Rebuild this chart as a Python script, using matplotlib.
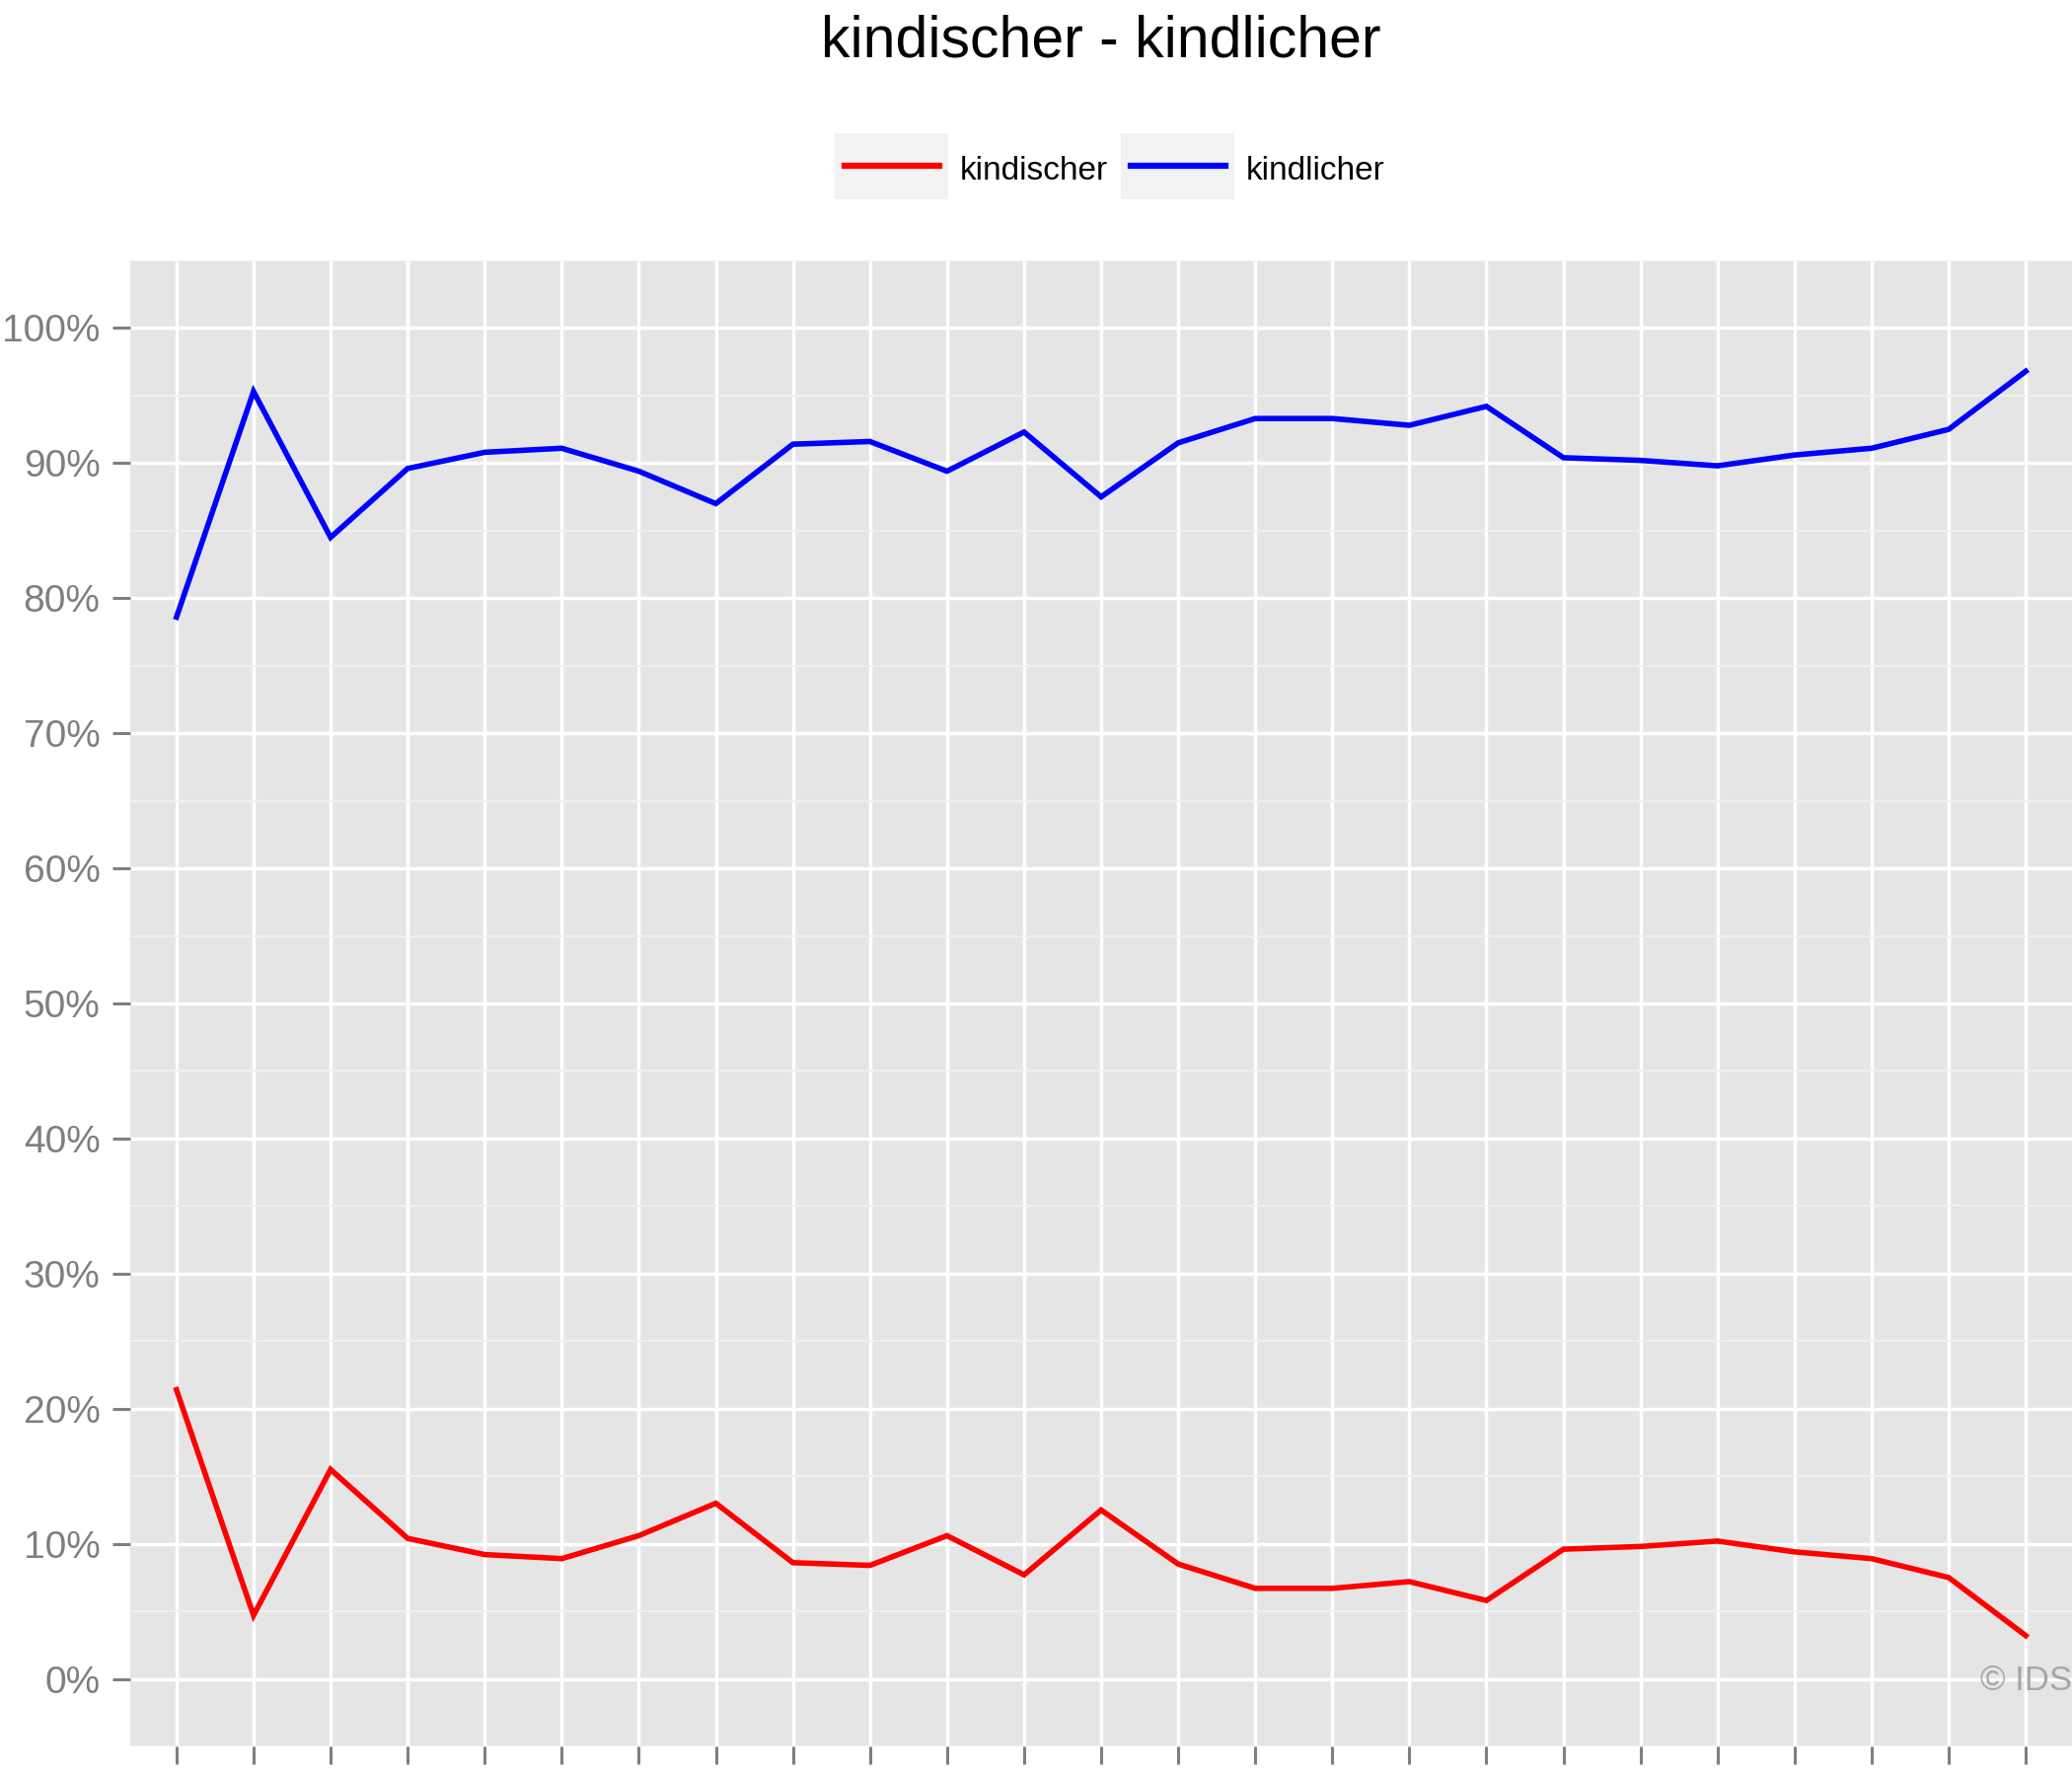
import matplotlib.pyplot as plt
from matplotlib.lines import Line2D
from matplotlib.patches import Rectangle
from matplotlib.ticker import MultipleLocator

plt.rcParams['font.family'] = ['Liberation Sans', 'DejaVu Sans']

# data (percent)
periods = list(range(1, 26))
kindischer = [21.4, 4.7, 15.5, 10.4, 9.2, 8.9, 10.6, 13.0, 8.6, 8.4, 10.6, 7.7, 12.5,
              8.5, 6.7, 6.7, 7.2, 5.8, 9.6, 9.8, 10.2, 9.4, 8.9, 7.5, 3.2]
kindlicher = [78.6, 95.3, 84.5, 89.6, 90.8, 91.1, 89.4, 87.0, 91.4, 91.6, 89.4, 92.3, 87.5,
              91.5, 93.3, 93.3, 92.8, 94.2, 90.4, 90.2, 89.8, 90.6, 91.1, 92.5, 96.8]
series_names = ['kindischer', 'kindlicher']
series_values = [kindischer, kindlicher]
series_colors = ['#FF0000', '#0000FF']
y_ticks = list(range(0, 101, 10))
y_labels = ['%d%%' % v for v in y_ticks]

W, H = 2100, 1800
fig = plt.figure(figsize=(21, 18), dpi=100)
ax = fig.add_axes([132 / W, 30 / H, 1 - 132 / W, 1506 / H])
ax.set_facecolor('#E5E5E5')

for vals, col in zip(series_values, series_colors):
    ax.plot(periods, vals, color=col, lw=4, solid_joinstyle='miter')

ax.set_xlim(0.4, 25.6)
ax.set_ylim(-5, 105)
ax.set_xticks(periods)
ax.set_yticks(y_ticks)
ax.set_yticklabels(y_labels)
ax.yaxis.set_minor_locator(MultipleLocator(5))

ax.set_axisbelow(True)
ax.grid(which='major', color='white', lw=2.5)
ax.grid(which='minor', axis='y', color='#F2F2F2', lw=1.3)
for s in ax.spines.values():
    s.set_visible(False)

ax.tick_params(axis='x', length=13, width=2.2, color='#7F7F7F', labelbottom=False)
ax.tick_params(axis='y', length=13, width=2.2, color='#7F7F7F',
               labelcolor='#7F7F7F', labelsize=28, pad=9)
ax.tick_params(which='minor', length=0)

# title
fig.text(1116 / W, 1 - 58 / H, 'kindischer - kindlicher', ha='center', va='baseline',
         fontsize=42.5, color='black')

# legend (ggplot style keys)
key_x = [846, 1136]
for kx, name, col in zip(key_x, series_names, series_colors):
    fig.add_artist(Rectangle((kx / W, 1 - 202 / H), 115 / W, 67 / H,
                             transform=fig.transFigure, facecolor='#F2F2F2',
                             edgecolor='none'))
    fig.add_artist(Line2D([(kx + 10) / W, (kx + 106) / W], [1 - 168 / H, 1 - 168 / H],
                          transform=fig.transFigure, color=col, lw=4.5))
    fig.text((kx + 127) / W, 1 - 182 / H, name, ha='left', va='baseline',
             fontsize=24, color='black')

fig.text(1.0, 1 - 1713 / H, '© IDS', ha='right', va='baseline', fontsize=25,
         color='#A6A6A6')

fig.savefig('out.png', dpi=100)
